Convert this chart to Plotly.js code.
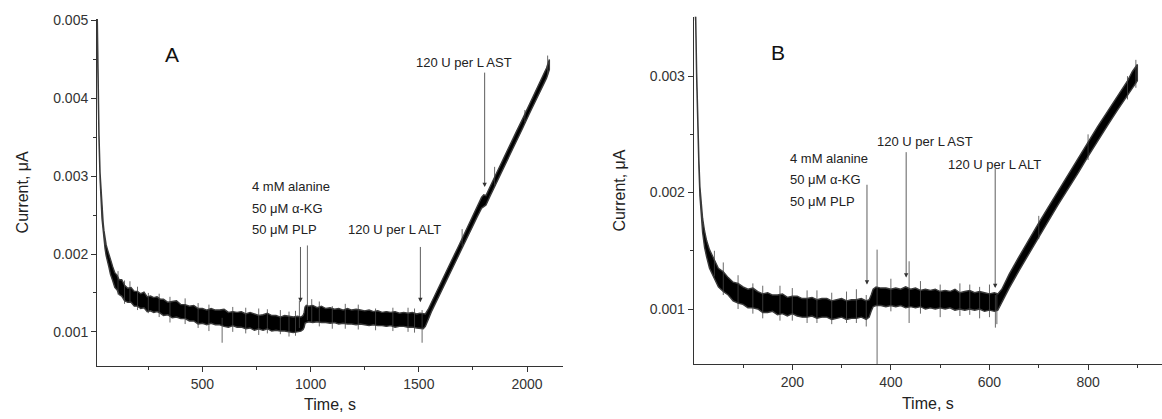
<!DOCTYPE html>
<html>
<head>
<meta charset="utf-8">
<script src="https://cdn.plot.ly/plotly-3.0.1.min.js"></script>
<style>
html,body{margin:0;padding:0;background:#fff;}
#chart{width:1162px;height:419px;}
</style>
</head>
<body>
<div id="chart"></div>
<script>
// ---------- Panel A : time (s), upper and lower edge of the noisy current trace (µA)
var timeA = [
  13,15,18,22,27,32,36,41,45,50,
  55,61,68,75,85,95,105,115,127,140,
  155,170,185,200,215,230,245,260,275,290,
  305,320,340,360,380,400,420,440,460,480,
  500,520,540,560,580,600,620,640,660,680,
  700,720,740,760,780,800,820,840,860,880,
  900,920,940,955,965,970,974,980,990,1010,
  1030,1050,1070,1090,1110,1130,1150,1170,1190,1210,
  1230,1250,1270,1290,1310,1330,1350,1370,1390,1410,
  1430,1450,1470,1490,1505,1520,1530,1545,1560,1590,
  1620,1650,1680,1710,1740,1770,1790,1800,1810,1830,
  1860,1890,1920,1950,1980,2010,2040,2070,2090,2103
];
var upperA = [
  0.00525,0.00475,0.00405,0.00354,0.00304,0.00276,0.00255,0.00241,0.00230,0.00219,
  0.00212,0.00206,0.00199,0.00191,0.00184,0.00176,0.00173,0.00167,0.00167,0.00160,
  0.00156,0.00157,0.00152,0.00152,0.00149,0.00151,0.00145,0.00146,0.00144,0.00145,
  0.00142,0.00142,0.00138,0.00139,0.00140,0.00135,0.00135,0.00133,0.00134,0.00130,
  0.00130,0.00128,0.00130,0.00128,0.00128,0.00129,0.00125,0.00126,0.00125,0.00126,
  0.00123,0.00125,0.00123,0.00121,0.00122,0.00124,0.00121,0.00121,0.00119,0.00121,
  0.00120,0.00119,0.00120,0.00119,0.00121,0.00125,0.00132,0.00134,0.00133,0.00134,
  0.00131,0.00133,0.00130,0.00131,0.00129,0.00130,0.00128,0.00130,0.00128,0.00129,
  0.00128,0.00127,0.00128,0.00126,0.00127,0.00125,0.00126,0.00125,0.00126,0.00124,
  0.00125,0.00124,0.00125,0.00123,0.00124,0.00123,0.00123,0.00130,0.00139,0.00156,
  0.00173,0.00191,0.00208,0.00226,0.00243,0.00261,0.00273,0.00276,0.00275,0.00287,
  0.00305,0.00322,0.00339,0.00357,0.00374,0.00392,0.00409,0.00427,0.00439,0.00450
];
var lowerA = [
  0.00515,0.00465,0.00395,0.00346,0.00296,0.00268,0.00245,0.00231,0.00218,0.00207,
  0.00198,0.00190,0.00183,0.00174,0.00166,0.00157,0.00154,0.00148,0.00146,0.00140,
  0.00138,0.00138,0.00133,0.00133,0.00130,0.00131,0.00126,0.00127,0.00125,0.00126,
  0.00124,0.00121,0.00122,0.00118,0.00119,0.00117,0.00117,0.00114,0.00114,0.00110,
  0.00111,0.00109,0.00111,0.00109,0.00109,0.00107,0.00106,0.00108,0.00106,0.00106,
  0.00104,0.00105,0.00102,0.00104,0.00102,0.00104,0.00101,0.00102,0.00101,0.00101,
  0.00100,0.00099,0.00100,0.00101,0.00103,0.00106,0.00111,0.00112,0.00113,0.00112,
  0.00113,0.00112,0.00112,0.00111,0.00112,0.00110,0.00111,0.00110,0.00110,0.00109,
  0.00110,0.00109,0.00108,0.00109,0.00108,0.00108,0.00107,0.00108,0.00106,0.00107,
  0.00107,0.00106,0.00106,0.00105,0.00105,0.00104,0.00107,0.00117,0.00127,0.00144,
  0.00161,0.00179,0.00196,0.00214,0.00231,0.00248,0.00259,0.00261,0.00263,0.00275,
  0.00293,0.00310,0.00327,0.00345,0.00362,0.00380,0.00397,0.00415,0.00426,0.00437
];
// isolated spikes in trace A: time, bottom, top
var spikeTimeA = [165,250,420,591,700,860,948,985,1005,1100,1300,1515,
  110,140,200,300,350,480,530,640,760,800,900,930,1040,1160,1220,1380,1450,1480,1700,1850,1990,2095];
var spikeLowA  = [0.00138,0.00124,0.00110,0.00086,0.00098,0.00097,0.00105,0.00115,0.00112,0.00104,0.00102,0.00086,
  0.00148,0.00136,0.00128,0.00119,0.00112,0.00105,0.00101,0.00100,0.00096,0.00098,0.00094,0.00095,0.00107,0.00104,0.00103,0.00101,0.00100,0.00099,0.00210,0.00288,0.00369,0.00430];
var spikeHighA = [0.00165,0.00150,0.00143,0.00118,0.00131,0.00128,0.00140,0.00211,0.00142,0.00133,0.00130,0.00128,
  0.00178,0.00166,0.00158,0.00149,0.00145,0.00137,0.00135,0.00132,0.00130,0.00129,0.00126,0.00127,0.00139,0.00136,0.00135,0.00131,0.00131,0.00130,0.00232,0.00312,0.00385,0.00455];

// ---------- Panel B
var timeB = [
  2,4,6,8.5,10.5,12.6,15,18,22,26,
  32,40,50,60,70,80,90,100,110,120,
  130,140,150,160,170,180,190,200,210,220,
  230,240,250,260,270,280,290,300,310,320,
  330,340,350,356,360,364,370,380,390,400,
  410,420,430,440,450,460,470,480,490,500,
  510,520,530,540,550,560,570,580,590,600,
  610,617,625,640,660,680,700,720,740,760,
  780,800,820,840,860,880,890,900
];
var upperB = [
  0.00368,0.00353,0.00303,0.00253,0.00228,0.00205,0.00190,0.00178,0.00167,0.00159,
  0.00151,0.00144,0.00135,0.00132,0.00127,0.00123,0.00122,0.00119,0.00117,0.00118,
  0.00115,0.00113,0.00114,0.00112,0.00112,0.00113,0.00110,0.00111,0.00111,0.00109,
  0.00109,0.00110,0.00108,0.00109,0.00109,0.00107,0.00108,0.00109,0.00107,0.00108,
  0.00108,0.00109,0.00107,0.00108,0.00112,0.00117,0.00119,0.00118,0.00118,0.00117,
  0.00118,0.00117,0.00119,0.00117,0.00118,0.00116,0.00117,0.00116,0.00117,0.00115,
  0.00116,0.00115,0.00117,0.00114,0.00115,0.00116,0.00114,0.00115,0.00114,0.00113,
  0.00114,0.00113,0.00117,0.00130,0.00145,0.00160,0.00174,0.00188,0.00202,0.00216,
  0.00229,0.00243,0.00257,0.00270,0.00283,0.00296,0.00304,0.00310
];
var lowerB = [
  0.00362,0.00347,0.00297,0.00247,0.00222,0.00197,0.00180,0.00166,0.00153,0.00145,
  0.00135,0.00128,0.00119,0.00115,0.00112,0.00107,0.00105,0.00104,0.00101,0.00101,
  0.00100,0.00097,0.00097,0.00098,0.00095,0.00096,0.00094,0.00096,0.00094,0.00093,
  0.00093,0.00094,0.00092,0.00093,0.00093,0.00091,0.00092,0.00093,0.00091,0.00092,
  0.00092,0.00093,0.00091,0.00093,0.00098,0.00102,0.00103,0.00103,0.00102,0.00103,
  0.00102,0.00103,0.00101,0.00102,0.00101,0.00102,0.00100,0.00101,0.00100,0.00101,
  0.00100,0.00101,0.00099,0.00100,0.00099,0.00100,0.00099,0.00100,0.00098,0.00099,
  0.00098,0.00099,0.00105,0.00118,0.00133,0.00148,0.00162,0.00176,0.00190,0.00204,
  0.00217,0.00231,0.00245,0.00258,0.00271,0.00284,0.00290,0.00296
];
var spikeTimeB = [42,120,175,250,310,350,372,437,500,580,612,615,
  60,90,140,200,230,280,330,400,460,540,560,600,700,800,880,897];
var spikeLowB  = [0.00128,0.00096,0.00090,0.00088,0.00088,0.00085,0.00040,0.00088,0.00093,0.00092,0.00084,0.00087,
  0.00112,0.00100,0.00092,0.00090,0.00088,0.00087,0.00088,0.00098,0.00096,0.00094,0.00095,0.00093,0.00160,0.00228,0.00280,0.00290];
var spikeHighB = [0.00150,0.00122,0.00120,0.00116,0.00115,0.00112,0.00151,0.00141,0.00121,0.00119,0.00112,0.00113,
  0.00140,0.00129,0.00120,0.00118,0.00116,0.00114,0.00117,0.00126,0.00124,0.00122,0.00121,0.00121,0.00180,0.00250,0.00300,0.00314];

// ---------- labels
var xTicksA = [500,1000,1500,2000];
var yTicksA = [0.001,0.002,0.003,0.004,0.005];
var yTickTextA = ['0.001','0.002','0.003','0.004','0.005'];
var xTicksB = [200,400,600,800];
var yTicksB = [0.001,0.002,0.003];
var yTickTextB = ['0.001','0.002','0.003'];
var additionsLines = ['4 mM alanine','50 μM α-KG','50 μM PLP'];
var altLabel = '120 U per L ALT';
var astLabel = '120 U per L AST';

// ---------- build traces
function band(t, hi, lo, xa, ya) {
  var xs = t.concat(t.slice().reverse());
  var ys = hi.concat(lo.slice().reverse());
  return {x: xs, y: ys, xaxis: xa, yaxis: ya, type: 'scatter', mode: 'lines',
          fill: 'toself', fillcolor: '#000', line: {color: '#3a3a3a', width: 1.4}, hoverinfo: 'skip'};
}
function spikes(t, lo, hi, xa, ya) {
  var xs = [], ys = [];
  for (var i = 0; i < t.length; i++) { xs.push(t[i], t[i], null); ys.push(lo[i], hi[i], null); }
  return {x: xs, y: ys, xaxis: xa, yaxis: ya, type: 'scatter', mode: 'lines',
          line: {color: '#444', width: 0.8}, hoverinfo: 'skip', connectgaps: false};
}
var data = [
  band(timeA, upperA, lowerA, 'x', 'y'),
  spikes(spikeTimeA, spikeLowA, spikeHighA, 'x', 'y'),
  band(timeB, upperB, lowerB, 'x2', 'y2'),
  spikes(spikeTimeB, spikeLowB, spikeHighB, 'x2', 'y2')
];

var FONT = 'Liberation Sans, Arial, Helvetica, sans-serif';
function axisBase() {
  return {showline: true, linecolor: '#333', linewidth: 1, mirror: false,
          ticks: 'outside', ticklen: 5, tickwidth: 1, tickcolor: '#333',
          showgrid: false, zeroline: false, automargin: false,
          tickfont: {family: FONT, size: 14, color: '#333'}};
}
var xA = Object.assign(axisBase(), {domain: [0.0835, 0.4845], range: [12.9, 2166], anchor: 'y',
  tickmode: 'array', tickvals: xTicksA,
  minor: {tickmode: 'array', tickvals: [250,750,1250,1750], ticks: 'outside', ticklen: 3, tickcolor: '#333'},
  title: {text: 'Time, s', font: {family: FONT, size: 16, color: '#222'}, standoff: 8}});
var yA = Object.assign(axisBase(), {domain: [0.1272, 0.9547], range: [0.000565, 0.00502], anchor: 'x',
  tickmode: 'array', tickvals: yTicksA, ticktext: yTickTextA,
  minor: {tickmode: 'array', tickvals: [0.0015,0.0025,0.0035,0.0045], ticks: 'outside', ticklen: 3, tickcolor: '#333'},
  title: {text: 'Current, μA', font: {family: FONT, size: 16, color: '#222'}, standoff: 20}});
var xB = Object.assign(axisBase(), {domain: [0.597, 1.0], range: [0, 950], anchor: 'y2',
  tickmode: 'array', tickvals: xTicksB,
  minor: {tickmode: 'array', tickvals: [100,300,500,700,900], ticks: 'outside', ticklen: 3, tickcolor: '#333'},
  title: {text: 'Time, s', font: {family: FONT, size: 16, color: '#222'}, standoff: 8}});
var yB = Object.assign(axisBase(), {domain: [0.1305, 0.960], range: [0.000525, 0.00351], anchor: 'x2',
  tickmode: 'array', tickvals: yTicksB, ticktext: yTickTextB,
  minor: {tickmode: 'array', tickvals: [0.0015,0.0025], ticks: 'outside', ticklen: 3, tickcolor: '#333'},
  title: {text: 'Current, μA', font: {family: FONT, size: 16, color: '#222'}, standoff: 20}});

var txtFont = {family: FONT, size: 13, color: '#222'};
function label(text, x, y, xr, yr, size) {
  return {text: text, x: x, y: y, xref: xr, yref: yr, showarrow: false,
          xanchor: 'left', yanchor: 'middle', font: Object.assign({}, txtFont, size ? {size: size} : {})};
}
function arrow(x, yTip, yTail, xr, yr) {
  return {text: '', x: x, y: yTip, ax: x, ay: yTail, xref: xr, yref: yr, axref: xr, ayref: yr,
          showarrow: true, arrowhead: 2, arrowsize: 1.1, arrowwidth: 0.8, arrowcolor: '#333'};
}
var ann = [
  // panel A
  {text: 'A', x: 360, y: 0.00457, xref: 'x', yref: 'y', showarrow: false, xanchor: 'center', yanchor: 'middle',
   font: {family: FONT, size: 21, color: '#111'}},
  label(additionsLines[0], 720, 0.00287, 'x', 'y'),
  label(additionsLines[1], 720, 0.00259, 'x', 'y'),
  label(additionsLines[2], 720, 0.00231, 'x', 'y'),
  label(altLabel, 1164, 0.00231, 'x', 'y'),
  label(astLabel, 1478, 0.00446, 'x', 'y'),
  arrow(953, 0.00138, 0.00211, 'x', 'y'),
  arrow(1507, 0.00138, 0.00211, 'x', 'y'),
  arrow(1804, 0.00286, 0.00435, 'x', 'y'),
  // panel B
  {text: 'B', x: 172, y: 0.00320, xref: 'x2', yref: 'y2', showarrow: false, xanchor: 'center', yanchor: 'middle',
   font: {family: FONT, size: 21, color: '#111'}},
  label(additionsLines[0], 191, 0.00229, 'x2', 'y2'),
  label(additionsLines[1], 191, 0.00211, 'x2', 'y2'),
  label(additionsLines[2], 191, 0.00192, 'x2', 'y2'),
  label(astLabel, 368, 0.00244, 'x2', 'y2'),
  label(altLabel, 511, 0.00224, 'x2', 'y2'),
  arrow(351.5, 0.00121, 0.00208, 'x2', 'y2'),
  arrow(431, 0.00127, 0.00236, 'x2', 'y2'),
  arrow(611.6, 0.00118, 0.00222, 'x2', 'y2')
];

var layout = {
  width: 1162, height: 419,
  margin: {l: 0, r: 0, t: 0, b: 0},
  paper_bgcolor: '#fff', plot_bgcolor: '#fff',
  showlegend: false, hovermode: false,
  font: {family: FONT, color: '#222'},
  xaxis: xA, yaxis: yA, xaxis2: xB, yaxis2: yB,
  annotations: ann
};
Plotly.newPlot('chart', data, layout, {displayModeBar: false, staticPlot: true});
</script>
</body>
</html>
